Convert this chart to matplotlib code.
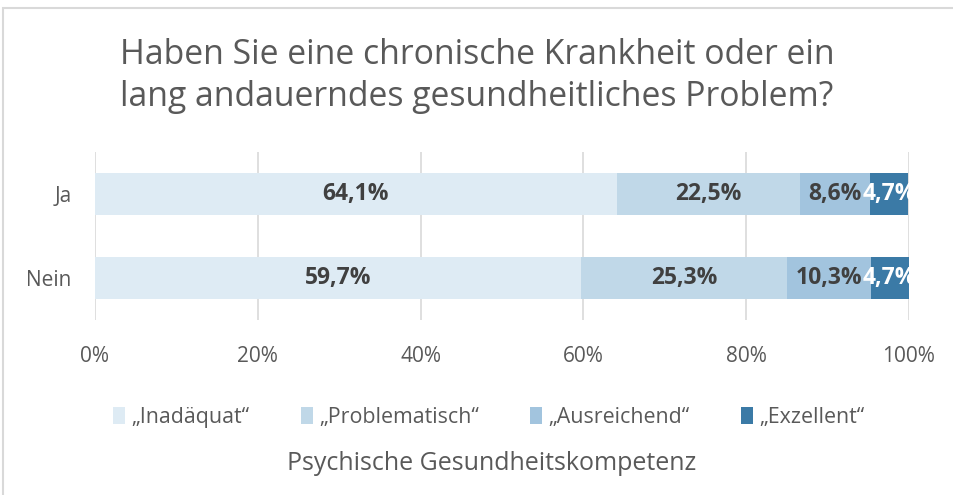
import matplotlib.pyplot as plt
from matplotlib.patches import Rectangle

plt.rcParams['font.family'] = ['Open Sans', 'DejaVu Sans']

categories = ['Ja', 'Nein']
series = ['„Inadäquat“', '„Problematisch“', '„Ausreichend“', '„Exzellent“']
values = [
    [64.1, 59.7],
    [22.5, 25.3],
    [8.6, 10.3],
    [4.7, 4.7],
]
colors = ['#DEEBF4', '#C0D8E8', '#A2C4DE', '#3B7AA6']
label_colors = ['#404040', '#404040', '#404040', 'white']

fig = plt.figure(figsize=(9.54, 4.95), dpi=100)
ax = fig.add_axes([95 / 954, 1 - 320 / 495, 814 / 954, 168 / 495])

ypos = [1, 0]
left = [0, 0]
for vals, name, col, lc in zip(values, series, colors, label_colors):
    ax.barh(ypos, vals, left=left, height=0.49, color=col, label=name, zorder=2)
    for y, v, l in zip(ypos, vals, left):
        ax.text(l + v / 2, y, f'{v:.1f}%'.replace('.', ','), ha='center', va='center',
                fontsize=16.5, fontweight='bold', color=lc, zorder=3, clip_on=True)
    left = [a + b for a, b in zip(left, vals)]

ax.set_xlim(0, 100)
ax.set_ylim(-0.5, 1.5)
ax.set_xticks(range(0, 101, 20))
ax.set_xticklabels([f'{t}%' for t in range(0, 101, 20)], fontsize=15, color='#595959')
ax.set_yticks(ypos)
ax.set_yticklabels(categories, fontsize=15, color='#595959')
ax.tick_params(length=0, pad=17)
ax.tick_params(axis='x', pad=19)
ax.grid(axis='x', color='#D9D9D9', linewidth=1.2, zorder=0)
for s in ax.spines.values():
    s.set_visible(False)

fig.text(0.5, 1 - 76 / 495, 'Haben Sie eine chronische Krankheit oder ein\nlang andauerndes gesundheitliches Problem?',
         ha='center', va='center', fontsize=24.3, color='#595959', linespacing=1.3)

handles, labels = ax.get_legend_handles_labels()
fig.legend(handles, labels, loc='center', bbox_to_anchor=(489 / 954, 1 - 417 / 495), ncol=4,
           frameon=False, fontsize=15.4, labelcolor='#595959', handlelength=0.55, handleheight=0.85,
           handletextpad=0.3, columnspacing=2.4)
fig.text(492 / 954, 1 - 463 / 495, 'Psychische Gesundheitskompetenz', ha='center', va='center',
         fontsize=18, color='#595959')

fig.patches.append(Rectangle((3 / 954, -0.1), 1.2, 1 - 8 / 495 + 0.1, transform=fig.transFigure,
                             fill=False, edgecolor='#D9D9D9', linewidth=1.5))

fig.savefig('out.png', dpi=100)
